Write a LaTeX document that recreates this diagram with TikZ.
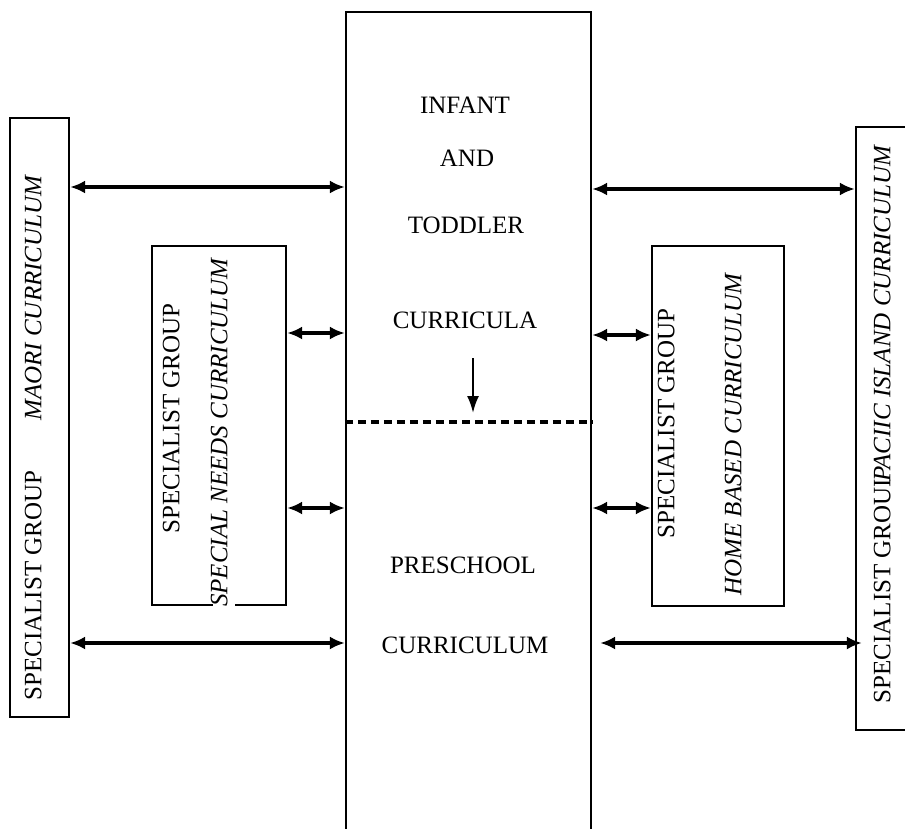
\documentclass[tikz,border=0pt]{standalone}
\usepackage{fontspec}
\setmainfont{Liberation Serif}
\usetikzlibrary{arrows.meta,calc}

\begin{document}
\begin{tikzpicture}[x=1pt,y=-1pt,font=\fontsize{25}{30}\selectfont,
	box/.style={draw,line width=2.2pt,inner sep=0pt},
	lbl/.style={rotate=90,inner sep=0pt,text height=0.66em,text depth=0pt},
	word/.style={inner sep=0pt,text height=0.66em,text depth=0pt},
	link/.style={line width=3.2pt,{Latex[length=15pt,width=13pt]}-{Latex[length=15pt,width=13pt]}}]
	\useasboundingbox (0,0) rectangle (905,828);
	\clip (0,0) rectangle (905,828);

	\node (curr) at (468.5,427) [box,minimum width=245,minimum height=830] {};
	\node (maori) at (39.5,417.5) [box,minimum width=59,minimum height=599] {};
	\node (needs) at (219,425.5) [box,minimum width=134,minimum height=359] {};
	\node (home) at (718,426) [box,minimum width=132,minimum height=360] {};
	\node (pacific) at (890.5,428.5) [box,minimum width=69,minimum height=603] {};

	\node (infant) at (465,110) [word] {INFANT};
	\node (and) at (467,163) [word] {AND};
	\node (toddler) at (466,230) [word] {TODDLER};
	\node (curricula) at (465,325) [word] {CURRICULA};
	\node (preschool) at (463,570) [word] {PRESCHOOL};
	\node (curriculum) at (465,650) [word] {CURRICULUM};

	\node (maori-t) at (38,437.5) [lbl] {SPECIALIST GROUP\hspace{2em}\textit{MAORI CURRICULUM}};
	\node (needs-a) at (176,418.5) [lbl] {SPECIALIST GROUP};
	\node (needs-b) at (224,432) [lbl,fill=white,inner xsep=2pt,inner ysep=8pt] {\textit{SPECIAL NEEDS CURRICULUM}};
	\node (home-a) at (671,423.5) [lbl] {SPECIALIST GROUP};
	\node (home-b) at (738,434) [lbl] {\textit{HOME BASED CURRICULUM}};
	\node (pacific-t) at (887,424) [lbl] {SPECIALIST GROUI\kern-0.1em\textit{PACIIC ISLAND CURRICULUM}};

	\draw[link] (maori.east |- 0,187) -- (curr.west |- 0,187);
	\draw[link] (maori.east |- 0,643) -- (curr.west |- 0,643);
	\draw[link] (needs.east |- 0,333) -- (curr.west |- 0,333);
	\draw[link] (needs.east |- 0,508) -- (curr.west |- 0,508);
	\draw[link] (curr.east |- 0,335) -- (home.west |- 0,335);
	\draw[link] (curr.east |- 0,508) -- (home.west |- 0,508);
	\draw[link] (curr.east |- 0,189) -- (pacific.west |- 0,189);
	\draw[link] ($(curr.east |- 0,643)+(8,0)$) -- ($(pacific.west |- 0,643)+(7,0)$);

	\coordinate (split-l) at (curr.west |- 0,422);
	\coordinate (split-r) at (curr.east |- 0,422);
	\draw[line width=3.2pt,dash pattern=on 8pt off 5pt] (split-l) -- (split-r);
	\coordinate (drop) at (473,358);
	\draw[line width=2.2pt,-{Latex[length=17pt,width=12pt]}] (drop) -- ($(drop |- split-l)+(0,-9)$);
\end{tikzpicture}
\end{document}
